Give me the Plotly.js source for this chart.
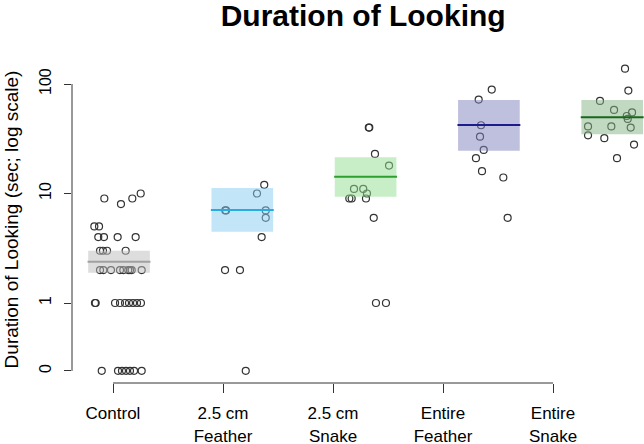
<!DOCTYPE html>
<html>
<head>
<meta charset="utf-8">
<script src="https://cdn.plot.ly/plotly-3.0.1.min.js"></script>
<style>html,body{margin:0;padding:0;background:#fff;}#chart{width:644px;height:444px;}</style>
</head>
<body>
<div id="chart"></div>
<script>
// ---- data ----
const categories = ['Control', '2.5 cm<br>Feather', '2.5 cm<br>Snake', 'Entire<br>Feather', 'Entire<br>Snake'];
const groupCenters = [1, 2, 3, 4, 5];

const controlValues = [10, 9, 9, 8, 5, 5, 4, 4, 4, 4, 3, 3, 3, 3, 2, 2, 2, 2, 2, 2, 2, 2, 2, 1, 1, 1, 1, 1, 1, 1, 1, 1, 0, 0, 0, 0, 0, 0, 0];
const controlJitterX = [1.176, 0.881, 1.108, 1.016, 0.800, 0.838, 0.832, 0.878, 0.989, 1.135, 0.846, 0.870, 0.903, 1.054, 0.846, 0.873, 0.935, 1.008, 1.035, 1.075, 1.089, 1.103, 1.184, 0.805, 0.811, 0.968, 1.008, 1.049, 1.081, 1.114, 1.146, 1.178, 0.860, 0.992, 1.024, 1.057, 1.089, 1.122, 1.184];

const feather25Values = [12, 10, 7, 7, 7, 6, 4, 2, 2, 0];
const feather25JitterX = [2.178, 2.119, 1.862, 1.868, 2.190, 2.190, 2.157, 1.860, 1.981, 2.028];

const snake25Values = [40, 40, 23, 18, 11, 11, 10, 9, 9, 9, 6, 1, 1];
const snake25JitterX = [3.026, 3.030, 3.076, 3.190, 2.906, 2.981, 3.011, 2.868, 2.887, 3.003, 3.066, 3.084, 3.165];

const featherEntireValues = [89, 72, 42, 33, 25, 21, 16, 14, 6];
const featherEntireJitterX = [4.023, 3.917, 3.936, 3.928, 3.958, 3.895, 3.944, 4.117, 4.152];

const snakeEntireValues = [138, 87, 70, 58, 55, 51, 48, 41, 41, 40, 34, 32, 28, 21];
const snakeEntireJitterX = [5.104, 5.131, 4.901, 5.015, 5.161, 5.118, 5.126, 4.804, 4.993, 5.150, 4.804, 4.936, 5.177, 5.039];

const groupMeans = [2.38, 7.07, 14.2, 42.2, 49.6];
const groupLower = [1.89, 4.48, 9.35, 24.6, 34.7];
const groupUpper = [3.0, 11.2, 21.4, 71.4, 71.4];

const yTickValues = [0, 1, 10, 100];
const yTickLabels = ['0', '1', '10', '100'];

// ---- styling ----
const ZERO_POS = 0.24;   // where a value of 0 is drawn on the log axis
const HALF_W = 0.25;
const fillColors = ['rgba(187,187,187,0.5)', 'rgba(133,203,239,0.5)', 'rgba(145,221,145,0.5)', 'rgba(127,129,189,0.5)', 'rgba(131,179,131,0.5)'];
const lineColors = ['#a0a0a0', '#29abe2', '#2e9e2e', '#1c1c8a', '#17691a'];

const toPlot = v => (v === 0 ? ZERO_POS : v);

const pointSets = [
  [controlJitterX, controlValues],
  [feather25JitterX, feather25Values],
  [snake25JitterX, snake25Values],
  [featherEntireJitterX, featherEntireValues],
  [snakeEntireJitterX, snakeEntireValues]
];

const traces = [];
pointSets.forEach(([xs, ys]) => {
  traces.push({
    type: 'scatter', mode: 'markers', xaxis: 'x2', yaxis: 'y',
    x: xs, y: ys.map(toPlot), hoverinfo: 'skip', cliponaxis: false,
    marker: {symbol: 'circle-open', size: 7, color: '#333', line: {width: 1.2}}
  });
});
groupCenters.forEach((c, i) => {
  traces.push({
    type: 'scatter', mode: 'lines', xaxis: 'x2', yaxis: 'y',
    x: [c - HALF_W, c + HALF_W, c + HALF_W, c - HALF_W, c - HALF_W],
    y: [groupLower[i], groupLower[i], groupUpper[i], groupUpper[i], groupLower[i]],
    fill: 'toself', fillcolor: fillColors[i], line: {width: 0}, hoverinfo: 'skip'
  });
  traces.push({
    type: 'scatter', mode: 'lines', xaxis: 'x2', yaxis: 'y',
    x: [c - HALF_W - 0.005, c + HALF_W + 0.005], y: [groupMeans[i], groupMeans[i]],
    line: {color: lineColors[i], width: 2}, hoverinfo: 'skip'
  });
});

const layout = {
  width: 644, height: 444,
  margin: {l: 72, r: 0, t: 56, b: 61},
  paper_bgcolor: '#fff', plot_bgcolor: '#fff',
  showlegend: false,
  font: {family: 'Liberation Sans, Arial, sans-serif', size: 17, color: '#000'},
  title: {
    text: '<b>Duration of Looking</b>', font: {size: 30, color: '#000'},
    xref: 'paper', x: 0.509, xanchor: 'center',
    yref: 'container', y: 1 - 15 / 444, yanchor: 'middle'
  },
  xaxis: {
    range: [0.6273, 5.8273], tickmode: 'array', tickvals: groupCenters, ticktext: categories,
    ticks: 'outside', ticklen: 9, tickwidth: 1, tickcolor: '#333', ticklabelstandoff: 6,
    showgrid: false, zeroline: false, showline: false, fixedrange: true
  },
  xaxis2: {range: [0.6188, 5.2579], overlaying: 'x', anchor: 'y', visible: false, fixedrange: true},
  yaxis: {
    type: 'log', range: [-0.7306, 2.2557],
    tickmode: 'array', tickvals: yTickValues.map(toPlot), ticktext: yTickLabels, tickangle: -90,
    tickfont: {size: 16},
    ticks: 'outside', ticklen: 7, tickwidth: 1, tickcolor: '#333', ticklabelstandoff: 7,
    showgrid: false, zeroline: false, showline: false, fixedrange: true,
    title: {text: 'Duration of Looking (sec; log scale)', font: {size: 19}, standoff: 12}
  },
  shapes: [
    {type: 'line', xref: 'x', yref: 'paper', x0: groupCenters[0], x1: groupCenters[4], y0: 0, y1: 0, line: {color: '#333', width: 1}},
    {type: 'line', xref: 'paper', yref: 'y', x0: 0, x1: 0, y0: toPlot(yTickValues[0]), y1: yTickValues[3], line: {color: '#333', width: 1}}
  ]
};

Plotly.newPlot('chart', traces, layout, {displayModeBar: false, staticPlot: true});
</script>
</body>
</html>
